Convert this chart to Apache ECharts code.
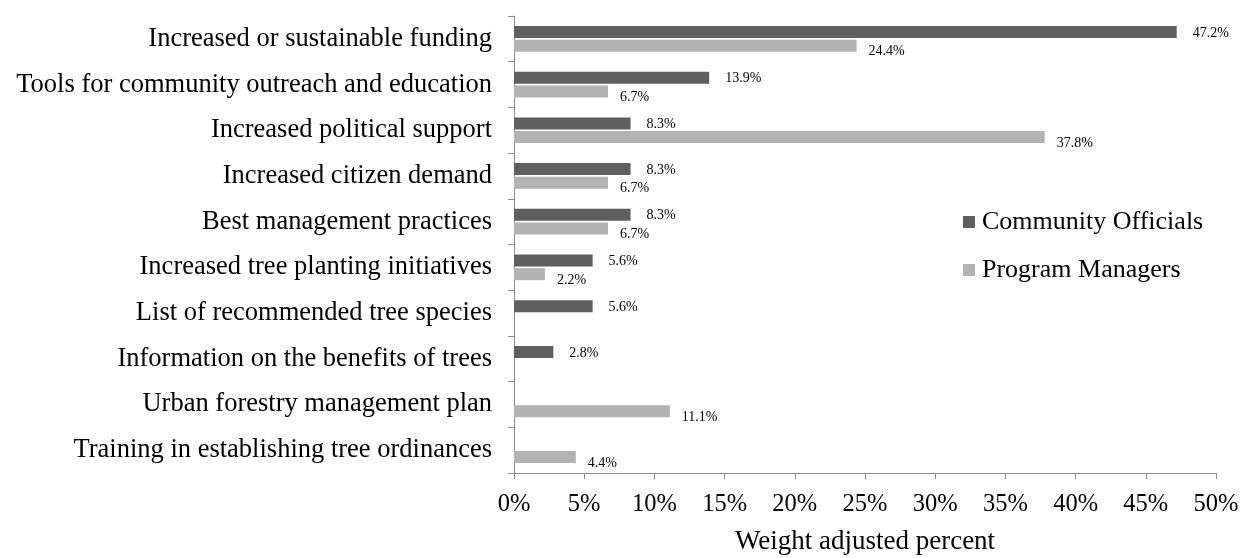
<!DOCTYPE html>
<html>
<head>
<meta charset="utf-8">
<script src="https://cdn.jsdelivr.net/npm/echarts@6/dist/echarts.min.js"></script>
<style>
  html, body { margin: 0; padding: 0; background: #fff; }
  #chart { width: 1241px; height: 558px; }
</style>
</head>
<body>
<div id="chart"></div>
<script>
const categories = [
  "Increased or sustainable funding",
  "Tools for community outreach and education",
  "Increased political support",
  "Increased citizen demand",
  "Best management practices",
  "Increased tree planting initiatives",
  "List of recommended tree species",
  "Information on the benefits of trees",
  "Urban forestry management plan",
  "Training in establishing tree ordinances"
];
// "-" = no response in that group
const communityOfficials = [47.2, 13.9, 8.3, 8.3, 8.3, 5.6, 5.6, 2.8, "-", "-"];
const programManagers = [24.4, 6.7, 37.8, 6.7, 6.7, 2.2, "-", "-", 11.1, 4.4];

const serif = "'Liberation Serif', 'DejaVu Serif', serif";
const pct = (p) => p.value.toFixed(1) + "%";

const chart = echarts.init(document.getElementById("chart"));
chart.setOption({
  animation: false,
  textStyle: { fontFamily: serif },
  grid: { left: 514, right: 25, top: 16, bottom: 85, outerBoundsMode: "none" },
  legend: {
    orient: "vertical",
    left: 958,
    top: 204,
    itemWidth: 12,
    itemHeight: 12,
    itemGap: 22,
    icon: "rect",
    textStyle: { fontFamily: serif, fontSize: 26, color: "#000", padding: [0, 0, 0, 2] },
    data: ["Community Officials", "Program Managers"]
  },
  xAxis: {
    type: "value",
    min: 0,
    max: 50,
    interval: 5,
    name: "Weight adjusted percent",
    nameLocation: "middle",
    nameGap: 55,
    nameTextStyle: { fontFamily: serif, fontSize: 27, color: "#000" },
    axisLine: { show: true, lineStyle: { color: "#8c8c8c" } },
    axisTick: { show: true, length: 6, lineStyle: { color: "#8c8c8c" } },
    axisLabel: { formatter: "{value}%", fontFamily: serif, fontSize: 24.5, color: "#000", margin: 19 },
    splitLine: { show: false }
  },
  yAxis: {
    type: "category",
    inverse: true,
    data: categories,
    axisLine: { show: true, lineStyle: { color: "#8c8c8c" } },
    axisTick: { show: true, length: 6, lineStyle: { color: "#8c8c8c" } },
    axisLabel: { fontFamily: serif, fontSize: 26.5, color: "#000", margin: 22 }
  },
  series: [
    {
      name: "Community Officials",
      type: "bar",
      data: communityOfficials,
      barWidth: 12,
      barGap: "14%",
      itemStyle: { color: "#5f5f5f" },
      label: {
        show: true, position: "right", distance: 16, offset: [0, 1],
        formatter: pct, fontFamily: serif, fontSize: 14, color: "#000"
      }
    },
    {
      name: "Program Managers",
      type: "bar",
      data: programManagers,
      barWidth: 12,
      barGap: "14%",
      itemStyle: { color: "#b3b3b3" },
      label: {
        show: true, position: "right", distance: 12, offset: [0, 6],
        formatter: pct, fontFamily: serif, fontSize: 14, color: "#000"
      }
    }
  ]
});
</script>
</body>
</html>
